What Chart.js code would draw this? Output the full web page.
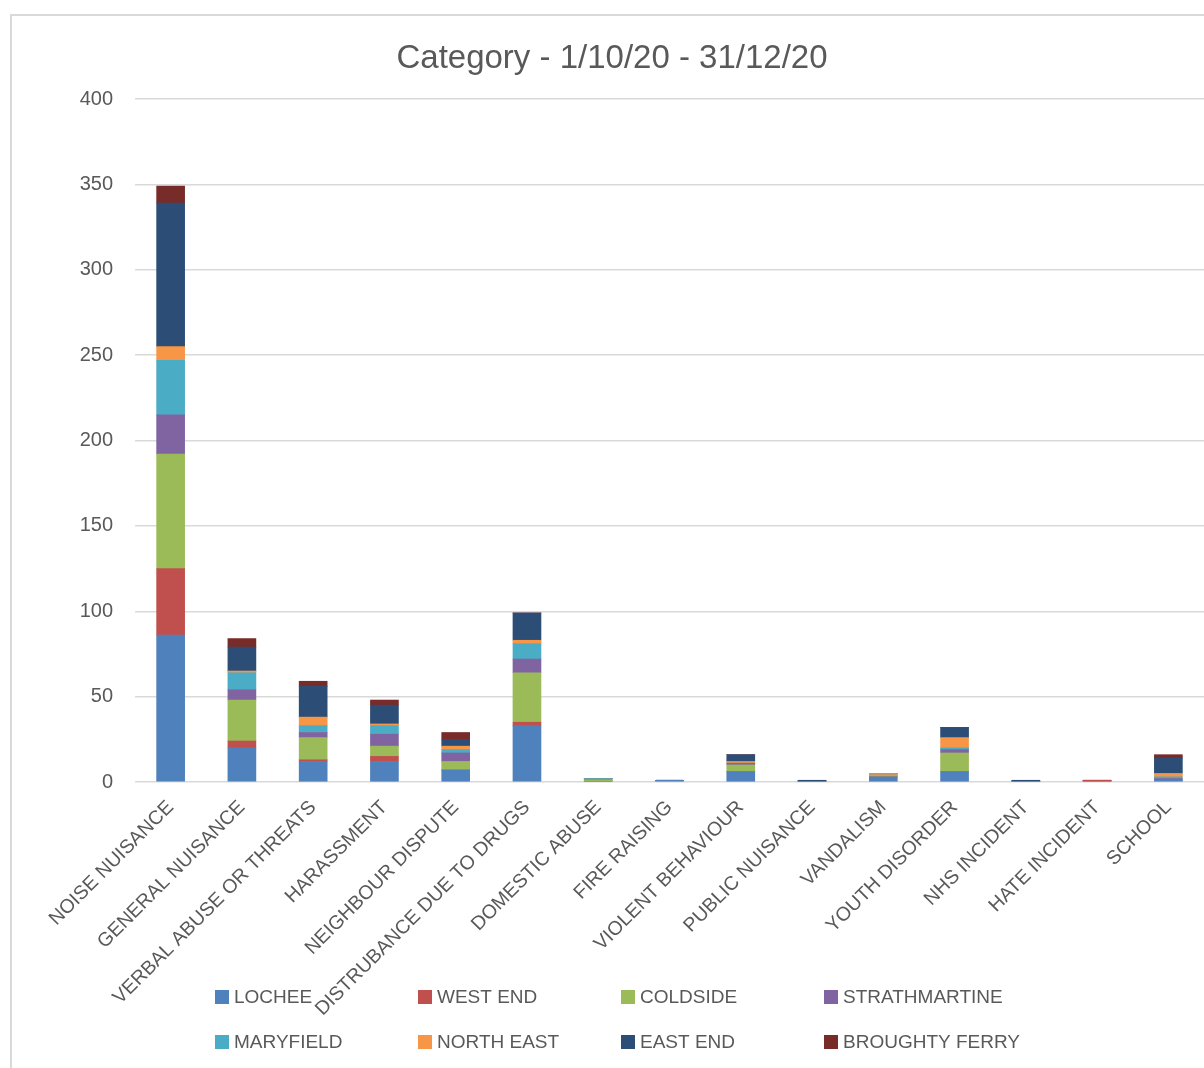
<!DOCTYPE html>
<html>
<head>
<meta charset="utf-8">
<script src="https://cdn.jsdelivr.net/npm/chart.js@4"></script>
<style>
  html, body { margin: 0; padding: 0; background: #fff; overflow: hidden; }
  #wrap { width: 1204px; height: 1068px; position: relative; }
</style>
</head>
<body>
<div id="wrap"><canvas id="chart" width="1204" height="1068"></canvas></div>
<script>
const categories = ['NOISE NUISANCE', 'GENERAL NUISANCE', 'VERBAL ABUSE OR THREATS', 'HARASSMENT',
  'NEIGHBOUR DISPUTE', 'DISTRUBANCE DUE TO DRUGS', 'DOMESTIC ABUSE', 'FIRE RAISING',
  'VIOLENT BEHAVIOUR', 'PUBLIC NUISANCE', 'VANDALISM', 'YOUTH DISORDER', 'NHS INCIDENT',
  'HATE INCIDENT', 'SCHOOL'];

// counts per area, one value per category
const lochee        = [86, 20, 12, 12, 7, 33, 0, 1, 6, 0, 3, 6, 0, 0, 1];
const westEnd       = [39, 4, 1, 3, 0, 2, 0, 0, 0, 0, 0, 0, 0, 1, 0];
const coldside      = [67, 24, 13, 6, 5, 29, 1, 0, 4, 0, 1, 11, 0, 0, 0];
const strathmartine = [23, 6, 3, 7, 5, 8, 0, 0, 1, 0, 0, 2, 0, 0, 1];
const maryfield     = [32, 10, 4, 5, 2, 9, 1, 0, 0, 0, 0, 1, 0, 0, 1];
const northEast     = [8, 1, 5, 1, 2, 2, 0, 0, 1, 0, 1, 6, 0, 0, 2];
const eastEnd       = [84, 14, 18, 11, 4, 16, 0, 0, 4, 1, 0, 6, 1, 0, 9];
const broughtyFerry = [10, 5, 3, 3, 4, 0, 0, 0, 0, 0, 0, 0, 0, 0, 2];

const yTicks = [0, 50, 100, 150, 200, 250, 300, 350, 400];

const series = [
  ['LOCHEE', lochee, '#4f81bd'],
  ['WEST END', westEnd, '#c0504d'],
  ['COLDSIDE', coldside, '#9bbb59'],
  ['STRATHMARTINE', strathmartine, '#8064a2'],
  ['MARYFIELD', maryfield, '#4bacc6'],
  ['NORTH EAST', northEast, '#f79646'],
  ['EAST END', eastEnd, '#2c4d75'],
  ['BROUGHTY FERRY', broughtyFerry, '#772c2a']
];

const FONT = "'Liberation Sans', Arial, sans-serif";
const GREY = '#595959';

// white background + the outer frame (left and top edges only show)
const framePlugin = {
  id: 'frame',
  beforeDraw(chart) {
    const c = chart.ctx;
    c.save();
    c.fillStyle = '#fff';
    c.fillRect(0, 0, chart.width, chart.height);
    c.strokeStyle = '#d9d9d9';
    c.lineWidth = 2;
    c.beginPath();
    c.moveTo(11, chart.height);
    c.lineTo(11, 15);
    c.lineTo(chart.width, 15);
    c.stroke();
    c.restore();
  },
  afterDraw(chart) {
    const c = chart.ctx;
    c.save();
    // title
    c.fillStyle = GREY;
    c.font = '33px ' + FONT;
    c.textAlign = 'center';
    c.textBaseline = 'middle';
    c.fillText('Category - 1/10/20 - 31/12/20', 612, 59);
    // legend, 4 per row
    c.font = '19px ' + FONT;
    c.textAlign = 'left';
    chart.data.datasets.forEach((ds, i) => {
      const x = 215 + (i % 4) * 203;
      const y = 997 + Math.floor(i / 4) * 45;
      c.fillStyle = ds.backgroundColor;
      c.fillRect(x, y - 7, 14, 14);
      c.fillStyle = GREY;
      c.fillText(ds.label, x + 19, y + 1);
    });
    c.restore();
  }
};

const ctx = document.getElementById('chart').getContext('2d');
new Chart(ctx, {
  type: 'bar',
  data: {
    labels: categories,
    datasets: series.map(([label, data, color]) => ({
      label: label,
      data: data,
      backgroundColor: color,
      borderWidth: 0,
      barThickness: 28
    }))
  },
  options: {
    responsive: false,
    animation: false,
    layout: { padding: { top: 99, left: 0, right: 0, bottom: 0 } },
    plugins: {
      legend: { display: false },
      title: { display: false },
      tooltip: { enabled: false }
    },
    scales: {
      x: {
        stacked: true,
        grid: { display: false },
        border: { display: false },
        ticks: {
          color: GREY,
          font: { family: FONT, size: 19.5 },
          minRotation: 45,
          maxRotation: 45,
          autoSkip: false,
          padding: 6
        },
        afterFit: (axis) => { axis.height = 286; }
      },
      y: {
        stacked: true,
        min: 0,
        max: 400,
        afterBuildTicks: (axis) => { axis.ticks = yTicks.map(v => ({ value: v })); },
        grid: { color: '#d9d9d9', lineWidth: 1.5, drawTicks: false },
        border: { display: false },
        ticks: {
          color: GREY,
          font: { family: FONT, size: 20 },
          padding: 22
        },
        afterFit: (axis) => { axis.width = 135; }
      }
    }
  },
  plugins: [framePlugin]
});
</script>
</body>
</html>
